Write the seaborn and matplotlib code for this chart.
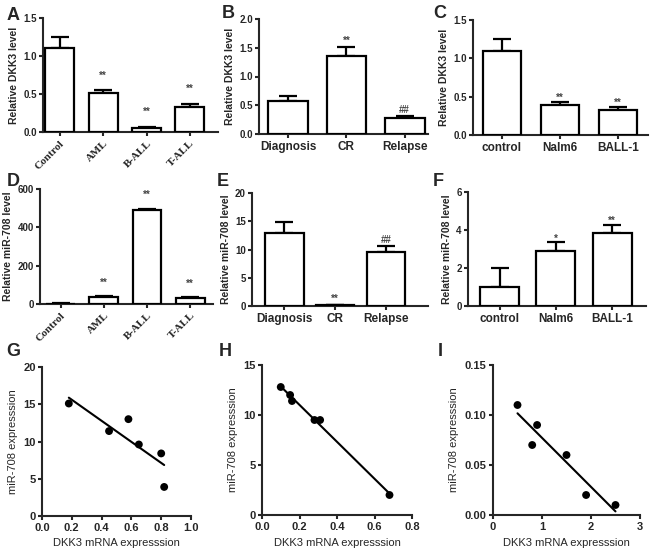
import numpy as np
import pandas as pd
import matplotlib
matplotlib.use("Agg")
import matplotlib.pyplot as plt
from matplotlib.ticker import FormatStrFormatter
import seaborn as sns

# ---- data ----
# A: DKK3 in leukemia types
a_groups = ["Control", "AML", "B-ALL", "T-ALL"]
a_mean = [1.10, 0.51, 0.05, 0.33]
a_err = [0.15, 0.04, 0.015, 0.04]
a_sig = ["", "**", "**", "**"]

# B: DKK3 by disease stage
b_groups = ["Diagnosis", "CR", "Relapse"]
b_mean = [0.58, 1.35, 0.28]
b_err = [0.08, 0.17, 0.04]
b_sig = ["", "**", "##"]

# C: DKK3 in cell lines
c_groups = ["control", "Nalm6", "BALL-1"]
c_mean = [1.10, 0.39, 0.33]
c_err = [0.15, 0.04, 0.04]
c_sig = ["", "**", "**"]

# D: miR-708 in leukemia types
d_groups = ["Control", "AML", "B-ALL", "T-ALL"]
d_mean = [2, 35, 490, 30]
d_err = [1, 5, 8, 4]
d_sig = ["", "**", "**", "**"]

# E: miR-708 by disease stage
e_groups = ["Diagnosis", "CR", "Relapse"]
e_mean = [13.0, 0.2, 9.6]
e_err = [1.9, 0.0, 1.0]
e_sig = ["", "**", "##"]

# F: miR-708 in cell lines
f_groups = ["control", "Nalm6", "BALL-1"]
f_mean = [1.0, 2.9, 3.85]
f_err = [1.0, 0.45, 0.4]
f_sig = ["", "*", "**"]

# G-I: correlation DKK3 vs miR-708
g_x = [0.18, 0.45, 0.58, 0.65, 0.80, 0.82]
g_y = [15.1, 11.4, 13.0, 9.6, 8.4, 3.9]
h_x = [0.10, 0.15, 0.16, 0.28, 0.31, 0.68]
h_y = [12.8, 12.0, 11.4, 9.5, 9.5, 2.0]
i_x = [0.5, 0.8, 0.9, 1.5, 1.9, 2.5]
i_y = [0.11, 0.07, 0.09, 0.06, 0.02, 0.01]

sns.set_style("ticks")
plt.rcParams["font.family"] = ["Liberation Sans", "DejaVu Sans"]
plt.rcParams["axes.linewidth"] = 1.5
plt.rcParams["xtick.major.width"] = 1.5
plt.rcParams["ytick.major.width"] = 1.5
plt.rcParams["xtick.major.size"] = 3
plt.rcParams["ytick.major.size"] = 3
plt.rcParams["xtick.major.pad"] = 2
plt.rcParams["ytick.major.pad"] = 1.5

W, H = 650, 553
fig = plt.figure(figsize=(W / 100, H / 100), dpi=100)


def box(x0, y0, x1, y1):
    # pixel box -> figure fraction
    return [x0 / W, 1 - y1 / H, (x1 - x0) / W, (y1 - y0) / H]


def letter(x, y, s):
    fig.text(x / W, 1 - y / H, s, fontsize=13, fontweight="bold",
             ha="center", va="center")


def bar_panel(rect, groups, mean, err, sig, ylabel, ylim, yticks, fmt,
              xlim, width, pad, rotate=False):
    ax = fig.add_axes(rect)
    df = pd.DataFrame({"group": groups, "value": mean})
    sns.barplot(data=df, x="group", y="value", ax=ax, color="white",
                edgecolor="black", linewidth=1.6, width=width, zorder=3)
    x = np.arange(len(groups))
    ax.errorbar(x, mean, yerr=[np.zeros(len(err)), err], fmt="none",
                ecolor="black", elinewidth=1.6, capsize=6.5, capthick=1.6,
                zorder=2)
    for xi, m, e, s in zip(x, mean, err, sig):
        if s:
            ax.text(xi, m + e + pad * ylim[1], s, ha="center", va="center",
                    fontsize=7, fontweight="bold", color="#444444")
    ax.set_xlim(*xlim)
    ax.set_ylim(*ylim)
    ax.set_yticks(yticks)
    ax.yaxis.set_major_formatter(FormatStrFormatter(fmt))
    ax.set_xlabel("")
    ax.set_ylabel(ylabel, fontsize=7.5, fontweight="bold", labelpad=3)
    for t in ax.get_yticklabels():
        t.set_fontsize(7)
        t.set_fontweight("bold")
    if rotate:
        ax.set_xticks(x)
        ax.set_xticklabels(groups, rotation=45, ha="right",
                           rotation_mode="anchor", fontsize=8,
                           fontweight="bold", family="Liberation Serif")
    else:
        for t in ax.get_xticklabels():
            t.set_fontsize(8.5)
            t.set_fontweight("bold")
    sns.despine(ax=ax)
    return ax


def scatter_panel(rect, xs, ys, xlim, xticks, xfmt, ylim, yticks, yfmt):
    ax = fig.add_axes(rect)
    sns.regplot(x=np.array(xs), y=np.array(ys), ax=ax, ci=None, color="black",
                scatter_kws={"s": 32, "edgecolor": "none", "alpha": 1},
                line_kws={"linewidth": 1.5})
    ax.set_xlim(*xlim)
    ax.set_ylim(*ylim)
    ax.set_xticks(xticks)
    ax.set_yticks(yticks)
    ax.xaxis.set_major_formatter(FormatStrFormatter(xfmt))
    ax.yaxis.set_major_formatter(FormatStrFormatter(yfmt))
    ax.set_xlabel("DKK3 mRNA expresssion", fontsize=8)
    ax.set_ylabel("miR-708 expresssion", fontsize=8)
    for t in ax.get_xticklabels() + ax.get_yticklabels():
        t.set_fontsize(8)
        t.set_fontweight("bold")
    sns.despine(ax=ax)
    return ax


# top row
bar_panel(box(43, 18, 218, 132), a_groups, a_mean, a_err, a_sig,
          "Relative DKK3 level", (0, 1.5), [0, 0.5, 1.0, 1.5], "%.1f",
          (-0.39, 3.65), 0.67, 0.13, rotate=True)
bar_panel(box(259, 19, 428, 134), b_groups, b_mean, b_err, b_sig,
          "Relative DKK3 level", (0, 2.0), [0, 0.5, 1.0, 1.5, 2.0], "%.1f",
          (-0.5, 2.4), 0.68, 0.05)
bar_panel(box(473, 20, 648, 135), c_groups, c_mean, c_err, c_sig,
          "Relative DKK3 level", (0, 1.5), [0, 0.5, 1.0, 1.5], "%.1f",
          (-0.5, 2.52), 0.66, 0.035)

# middle row
bar_panel(box(40, 189, 213, 304), d_groups, d_mean, d_err, d_sig,
          "Relative miR-708 level", (0, 600), [0, 200, 400, 600], "%d",
          (-0.48, 3.53), 0.67, 0.12, rotate=True)
bar_panel(box(252, 193, 428, 306), e_groups, e_mean, e_err, e_sig,
          "Relative miR-708 level", (0, 20), [0, 5, 10, 15, 20], "%d",
          (-0.64, 2.83), 0.76, 0.05)
bar_panel(box(468, 192, 646, 306), f_groups, f_mean, f_err, f_sig,
          "Relative miR-708 level", (0, 6), [0, 2, 4, 6], "%d",
          (-0.56, 2.6), 0.69, 0.035)

# bottom row
scatter_panel(box(42, 367, 191, 516), g_x, g_y, (0, 1.0),
              [0, 0.2, 0.4, 0.6, 0.8, 1.0], "%.1f", (0, 20),
              [0, 5, 10, 15, 20], "%d")
scatter_panel(box(262, 365, 412, 515), h_x, h_y, (0, 0.8),
              [0, 0.2, 0.4, 0.6, 0.8], "%.1f", (0, 15),
              [0, 5, 10, 15], "%d")
scatter_panel(box(493, 365, 640, 515), i_x, i_y, (0, 3),
              [0, 1, 2, 3], "%d", (0, 0.15),
              [0, 0.05, 0.10, 0.15], "%.2f")

# panel letters
for (lx, ly, s) in [(13, 15, "A"), (228, 13, "B"), (440, 13, "C"),
                    (13, 182, "D"), (223, 182, "E"), (438, 182, "F"),
                    (13, 352, "G"), (225, 352, "H"), (440, 352, "I")]:
    letter(lx, ly, s)

fig.savefig("out.png", dpi=100)
